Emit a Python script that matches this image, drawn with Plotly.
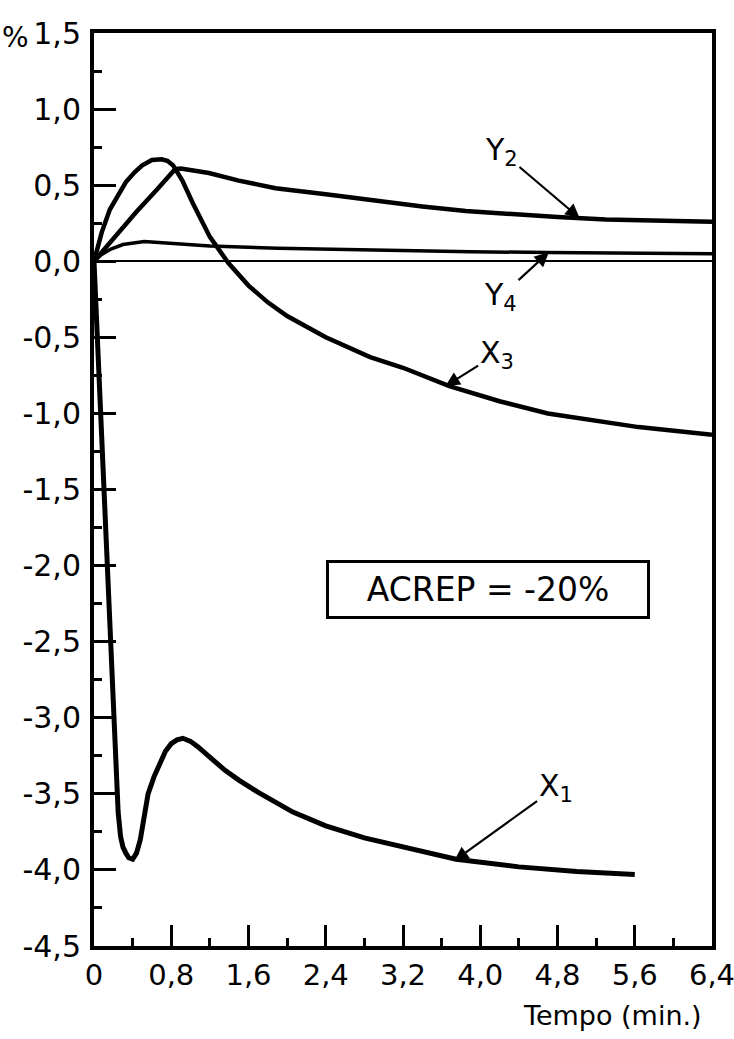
import plotly.graph_objects as go

# ---- data ----
x1_t = [0, 0.05, 0.10, 0.15, 0.20, 0.22, 0.25, 0.275, 0.30, 0.33, 0.36, 0.40, 0.44, 0.48, 0.52, 0.56,
        0.62, 0.667, 0.74, 0.80, 0.86, 0.92, 1.0, 1.075, 1.2, 1.357, 1.5, 1.71, 2.06, 2.4, 2.8, 3.2,
        3.75, 4.4, 5.0, 5.6]
x1_v = [0, -0.75, -1.5, -2.25, -2.95, -3.25, -3.62, -3.78, -3.85, -3.89, -3.92, -3.93, -3.89, -3.80,
        -3.63, -3.50, -3.39, -3.315, -3.22, -3.17, -3.145, -3.135, -3.155, -3.19, -3.26, -3.346, -3.41,
        -3.494, -3.62, -3.71, -3.79, -3.85, -3.93, -3.98, -4.01, -4.03]

x3_t = [0, 0.08, 0.164, 0.25, 0.33, 0.42, 0.5, 0.6, 0.7, 0.76, 0.82, 0.915, 1.025, 1.2, 1.39, 1.6,
        1.8, 2.0, 2.4, 2.86, 3.2, 3.68, 4.2, 4.7, 5.2, 5.64, 6.4]
x3_v = [0, 0.19, 0.34, 0.44, 0.52, 0.585, 0.63, 0.665, 0.67, 0.66, 0.63, 0.53, 0.38, 0.16, -0.01,
        -0.16, -0.27, -0.36, -0.50, -0.63, -0.70, -0.82, -0.92, -1.0, -1.05, -1.09, -1.14]

y2_t = [0, 0.2, 0.44, 0.65, 0.84, 0.9, 1.0, 1.19, 1.5, 1.88, 2.4, 2.93, 3.4, 3.85, 4.3, 4.8, 5.3,
        5.8, 6.4]
y2_v = [0, 0.15, 0.325, 0.47, 0.605, 0.61, 0.60, 0.58, 0.53, 0.48, 0.44, 0.395, 0.36, 0.33, 0.31,
        0.29, 0.275, 0.265, 0.26]

y4_t = [0, 0.08, 0.175, 0.3, 0.52, 0.8, 1.2, 1.9, 2.6, 3.2, 3.9, 4.7, 5.5, 6.4]
y4_v = [0, 0.045, 0.08, 0.11, 0.13, 0.12, 0.10, 0.085, 0.075, 0.068, 0.062, 0.058, 0.054, 0.05]

y_tick_vals = [-4.5, -4.0, -3.5, -3.0, -2.5, -2.0, -1.5, -1.0, -0.5, 0.0, 0.5, 1.0, 1.5]
y_tick_text = ["-4,5", "-4,0", "-3,5", "-3,0", "-2,5", "-2,0", "-1,5", "-1,0", "-0,5",
               "0,0", "0,5", "1,0", "1,5"]
x_tick_vals = [0, 0.8, 1.6, 2.4, 3.2, 4.0, 4.8, 5.6, 6.4]
x_tick_text = ["0", "0,8", "1,6", "2,4", "3,2", "4,0", "4,8", "5,6", "6,4"]

FONT = "DejaVu Sans"

fig = go.Figure()
for xs, ys, w in [(x1_t, x1_v, 5), (x3_t, x3_v, 4.5), (y2_t, y2_v, 4.5), (y4_t, y4_v, 3.5)]:
    fig.add_trace(go.Scatter(x=xs, y=ys, mode="lines", line=dict(color="black", width=w),
                             showlegend=False, hoverinfo="skip"))

# curve labels: (text, label x, label y, arrow tip x, arrow tip y)
labels = [
    ("Y<sub>2</sub>", 4.22, 0.72, 5.03, 0.283),
    ("Y<sub>4</sub>", 4.21, -0.233, 4.71, 0.059),
    ("X<sub>3</sub>", 4.17, -0.61, 3.64, -0.82),
    ("X<sub>1</sub>", 4.78, -3.46, 3.73, -3.94),
]
for txt, lx, ly, tx, ty in labels:
    fig.add_annotation(x=tx, y=ty, ax=lx, ay=ly, axref="x", ayref="y", text=txt,
                       showarrow=True, arrowhead=2, arrowsize=1.3, arrowwidth=2.2,
                       arrowcolor="black", standoff=0,
                       font=dict(family=FONT, size=30, color="black"))

fig.add_annotation(x=4.08, y=-2.155, text="ACREP = -20%", showarrow=False,
                   font=dict(family=FONT, size=33, color="black"),
                   bordercolor="black", borderwidth=3, borderpad=4,
                   width=310, height=45, bgcolor="white")

fig.add_annotation(xref="paper", yref="paper", x=(15 - 94) / 618, y=(946 - 38) / 913,
                   xanchor="center", yanchor="middle", text="%", showarrow=False,
                   font=dict(family=FONT, size=28, color="black"))
fig.add_annotation(xref="paper", yref="paper", x=(612 - 94) / 618, y=(946 - 1016) / 913,
                   xanchor="center", yanchor="middle", text="Tempo (min.)",
                   showarrow=False, font=dict(family=FONT, size=27, color="black"))

fig.update_layout(
    width=734, height=1039,
    margin=dict(l=94, r=22, t=33, b=93, autoexpand=False),
    paper_bgcolor="white", plot_bgcolor="white",
    font=dict(family=FONT, size=30, color="black"),
    xaxis=dict(range=[0, 6.4], tickvals=x_tick_vals, ticktext=x_tick_text,
               ticks="inside", ticklen=21, tickwidth=2.5, tickcolor="black",
               showline=True, linewidth=4, linecolor="black", mirror=True,
               showgrid=False, zeroline=False, ticklabelstandoff=0,
               ticklabeloverflow="allow", automargin=False,
               tickfont=dict(family=FONT, size=29, color="black"),
               minor=dict(tick0=0, dtick=0.4, ticks="inside", ticklen=8, tickwidth=2.5,
                          tickcolor="black", showgrid=False)),
    yaxis=dict(range=[-4.5, 1.5], tickvals=y_tick_vals, ticktext=y_tick_text,
               ticks="inside", ticklen=22, tickwidth=2.5, tickcolor="black",
               showline=True, linewidth=4, linecolor="black", mirror=True,
               showgrid=False, zeroline=True, zerolinewidth=2, zerolinecolor="black",
               ticklabelstandoff=3, automargin=False,
               tickfont=dict(family=FONT, size=30, color="black"),
               minor=dict(tick0=0, dtick=0.25, ticks="inside", ticklen=8, tickwidth=2.5,
                          tickcolor="black", showgrid=False)),
)

fig.write_html("out.html")
